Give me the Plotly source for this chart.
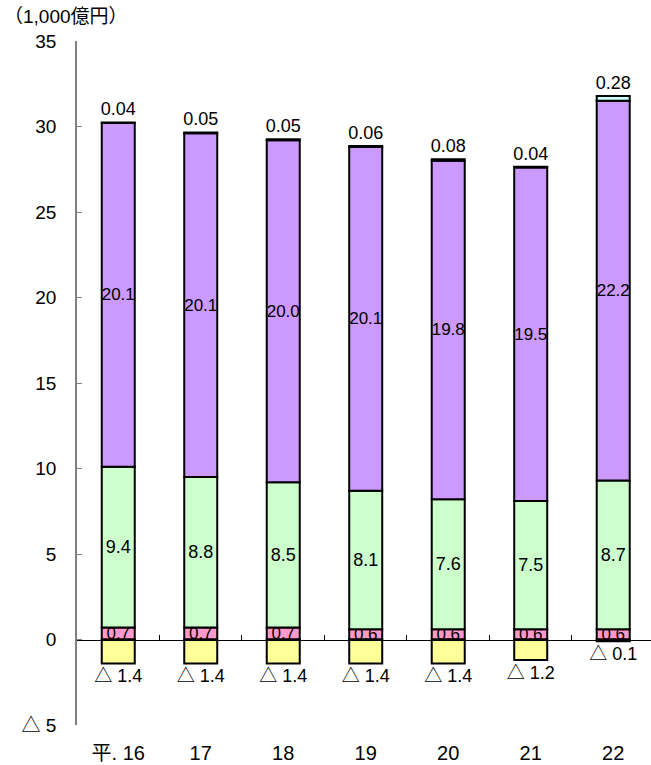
import plotly.graph_objects as go

# Fiscal years (Heisei) and stacked components, in units of 1,000 oku yen
years = ["平. 16", "17", "18", "19", "20", "21", "22"]
negative = [-1.4, -1.4, -1.4, -1.4, -1.4, -1.2, -0.1]
pink_vals = [0.7, 0.7, 0.7, 0.6, 0.6, 0.6, 0.6]
green_vals = [9.4, 8.8, 8.5, 8.1, 7.6, 7.5, 8.7]
purple_vals = [20.1, 20.1, 20.0, 20.1, 19.8, 19.5, 22.2]
top_vals = [0.04, 0.05, 0.05, 0.06, 0.08, 0.04, 0.28]

y_ticks = [-5, 0, 5, 10, 15, 20, 25, 30, 35]
y_ticktext = ["△ 5", "0", "5", "10", "15", "20", "25", "30", "35"]

FONT = "Liberation Sans, Arial, Noto Sans CJK JP"
x = list(range(len(years)))
line = dict(color="black", width=2)
bar_w = 0.4


def label_font(size=16):
    return dict(size=size, color="black", family=FONT)


fig = go.Figure()

# pink first so the neighbouring segments overlap its label
fig.add_trace(go.Bar(
    x=x, y=pink_vals, width=bar_w, marker=dict(color="#FF99CC", line=line),
    texttemplate="%{y:.1f}", textposition="inside", insidetextanchor="middle",
    textangle=0, constraintext="none", textfont=label_font(17),
))
fig.add_trace(go.Bar(
    x=x, y=negative, width=bar_w, marker=dict(color="#FFFF99", line=line),
    text=[f"△ {abs(v):.1f}" for v in negative], texttemplate="%{text}",
    textposition="outside", cliponaxis=False, textangle=0,
    constraintext="none", textfont=label_font(18),
))
fig.add_trace(go.Bar(
    x=x, y=green_vals, width=bar_w, marker=dict(color="#CCFFCC", line=line),
    texttemplate="%{y:.1f}", textposition="inside", insidetextanchor="middle",
    textangle=0, constraintext="none", textfont=label_font(18),
))
fig.add_trace(go.Bar(
    x=x, y=purple_vals, width=bar_w, marker=dict(color="#CC99FF", line=line),
    texttemplate="%{y:.1f}", textposition="inside", insidetextanchor="middle",
    textangle=0, constraintext="none", textfont=label_font(17),
))
fig.add_trace(go.Bar(
    x=x, y=top_vals, width=bar_w, marker=dict(color="#CCFFFF", line=line),
    texttemplate="%{y:.2f}", textposition="outside", cliponaxis=False,
    textangle=0, constraintext="none", textfont=label_font(18),
))
# carrier for the zero-level axis with ticks between categories
fig.add_trace(go.Scatter(x=[0], y=[0], xaxis="x2", mode="markers",
                         marker=dict(opacity=0), hoverinfo="skip", showlegend=False))

xr = [-0.5, 6.458]
fig.update_layout(
    width=651, height=765,
    margin=dict(l=77, r=0, t=41, b=40, autoexpand=False),
    paper_bgcolor="white", plot_bgcolor="white",
    barmode="relative", showlegend=False,
    font=dict(family=FONT, color="black"),
    xaxis=dict(
        range=xr, tickvals=x, ticktext=years, showline=False, showgrid=False,
        zeroline=False, ticks="", ticklabelstandoff=14,
        tickfont=dict(size=20, family=FONT), automargin=False,
    ),
    xaxis2=dict(
        overlaying="x", anchor="free", position=0.125, range=xr,
        tickvals=[i + 0.5 for i in range(len(years) - 1)], ticks="inside",
        ticklen=5, tickcolor="black", tickwidth=1, showticklabels=False,
        showline=True, linecolor="black", linewidth=1, showgrid=False,
        zeroline=False,
    ),
    yaxis=dict(
        range=[-5, 35], tickvals=y_ticks, ticktext=y_ticktext,
        showline=True, linecolor="#808080", linewidth=1.5,
        ticks="inside", ticklen=5, tickcolor="#808080", tickwidth=1,
        showgrid=False, zeroline=False, ticklabelstandoff=15,
        tickfont=dict(size=19, family=FONT), automargin=False,
    ),
    annotations=[dict(
        text="（1,000億円）", xref="paper", yref="paper", x=-0.13, y=1.0,
        xanchor="left", yanchor="bottom", yshift=12, showarrow=False,
        font=dict(size=19, family=FONT),
    )],
)

fig.write_html("out.html")
